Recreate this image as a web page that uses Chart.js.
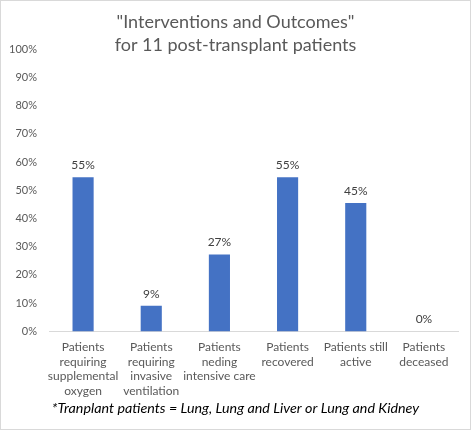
<!DOCTYPE html>
<html><head><meta charset="utf-8">
<script src="https://cdn.jsdelivr.net/npm/chart.js@4"></script>
<style>
 body { margin:0; background:#fff; }
 #box { width:471px; height:430px; box-sizing:border-box; border:1px solid #d9d9d9; position:relative; }
</style>
</head>
<body>
<div id="box"><canvas id="myChart"></canvas></div>
<script>
var categories = [
  ['Patients', 'requiring', 'supplemental', 'oxygen'],
  ['Patients', 'requiring', 'invasive', 'ventilation'],
  ['Patients', 'neding', 'intensive care'],
  ['Patients', 'recovered'],
  ['Patients still', 'active'],
  ['Patients', 'deceased']
];
var percents = [54.55, 9.09, 27.27, 54.55, 45.45, 0];
var yTicks = [0, 10, 20, 30, 40, 50, 60, 70, 80, 90, 100];
var titleLines = ['"Interventions and Outcomes"', 'for 11 post-transplant patients'];
var footnote = '*Tranplant patients = Lung, Lung and Liver or Lung and Kidney';

var fontName = 'Lato, "Open Sans", sans-serif';

// labels above bars + title + footnote
var extras = {
  id: 'extras',
  afterDatasetsDraw: function(chart) {
    var c = chart.ctx;
    c.save();
    c.font = '12px ' + fontName;
    c.fillStyle = '#404040';
    c.textAlign = 'center';
    c.textBaseline = 'bottom';
    chart.getDatasetMeta(0).data.forEach(function(bar, i) {
      c.fillText(Math.round(percents[i]) + '%', bar.x, bar.y - 6);
    });
    c.restore();
  },
  afterDraw: function(chart) {
    var c = chart.ctx;
    var mid = chart.width / 2;
    c.save();
    c.textAlign = 'center';
    c.textBaseline = 'middle';
    c.fillStyle = '#595959';
    c.font = '18px ' + fontName;
    c.fillText(titleLines[0], mid, 21);
    c.fillText(titleLines[1], mid, 44);
    c.fillStyle = '#000';
    c.font = 'italic 14.3px ' + fontName;
    c.fillText(footnote, mid, chart.height - 21);
    c.restore();
  }
};

var ctx = document.getElementById('myChart');
new Chart(ctx, {
  type: 'bar',
  data: {
    labels: categories,
    datasets: [{
      data: percents,
      backgroundColor: '#4472C4',
      barPercentage: 0.31,
      categoryPercentage: 1
    }]
  },
  options: {
    responsive: true,
    maintainAspectRatio: false,
    animation: false,
    layout: { padding: { top: 48, left: 0, right: 12, bottom: 22 } },
    plugins: { legend: { display: false }, tooltip: { enabled: false } },
    scales: {
      x: {
        grid: { display: false, drawTicks: false },
        border: { display: true, color: '#d9d9d9' },
        ticks: {
          color: '#595959', font: { family: fontName, size: 12, lineHeight: 1.2 },
          maxRotation: 0, minRotation: 0, autoSkip: false, padding: 9
        }
      },
      y: {
        min: 0, max: 100,
        grid: { display: false, drawTicks: false },
        border: { display: false },
        afterBuildTicks: function(axis) { axis.ticks = yTicks.map(function(v) { return { value: v }; }); },
        afterFit: function(axis) { axis.width = 48; },
        ticks: {
          color: '#595959', font: { family: fontName, size: 11 }, padding: 12,
          callback: function(v) { return v + '%'; }
        }
      }
    }
  },
  plugins: [extras]
});
</script>
</body></html>
